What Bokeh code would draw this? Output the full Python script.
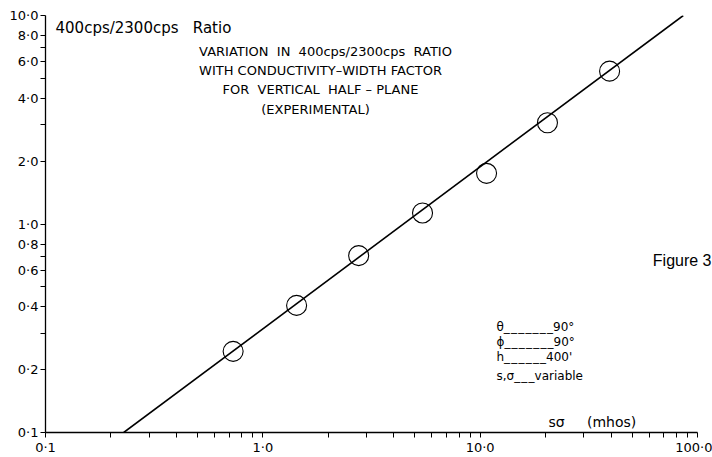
import numpy as np
from bokeh.plotting import figure
from bokeh.models import Label, FixedTicker
from bokeh.embed import file_html
from bokeh.resources import INLINE

# ---- data ----
s_sigma = [0.73, 1.43, 2.76, 5.43, 10.7, 20.4, 39.4]       # conductivity-width factor (mhos)
ratio = [0.245, 0.407, 0.705, 1.13, 1.75, 3.06, 5.41]      # 400cps/2300cps ratio
fit_x = [0.229, 86.0]                                       # fitted line end points
fit_y = [0.1, 10.0]

x_ticks = [0.1, 0.2, 0.3, 0.4, 0.5, 0.6, 0.7, 0.8, 0.9,
           1, 2, 3, 4, 5, 6, 7, 8, 9,
           10, 20, 30, 40, 50, 60, 70, 80, 90, 100]
x_tick_labels = {0.1: "0\u00b71", 1: "1\u00b70", 10: "10\u00b70", 100: "100\u00b70"}
y_ticks = [0.1, 0.2, 0.3, 0.4, 0.5, 0.6, 0.7, 0.8,
           1, 2, 3, 4, 5, 6, 7, 8, 10]
y_tick_labels = {0.1: "0\u00b71", 0.2: "0\u00b72", 0.4: "0\u00b74", 0.6: "0\u00b76", 0.8: "0\u00b78",
                 1: "1\u00b70", 2: "2\u00b70", 4: "4\u00b70", 6: "6\u00b70", 8: "8\u00b70", 10: "10\u00b70"}

# ---- layout ----
W, H = 712, 457
FL, FR, FT, FB = 45, 697, 15, 435          # pixel extent of the axes
X0, X1, Y0, Y1 = 0.1, 100.0, 0.1, 10.0
LX = np.log10(X1) - np.log10(X0)
LY = np.log10(Y1) - np.log10(Y0)

def dx(px):
    return 10 ** (np.log10(X0) + (px - FL) / (FR - FL) * LX)

def dy(py):
    return 10 ** (np.log10(Y0) + (FB - py) / (FB - FT) * LY)

FONT = "DejaVu Sans"

p = figure(width=W, height=H, x_axis_type="log", y_axis_type="log",
           x_range=(X0, dx(W)), y_range=(Y0, Y1),
           output_backend="svg", toolbar_location=None,
           min_border_left=FL, min_border_right=0,
           min_border_top=FT, min_border_bottom=H - FB)
p.outline_line_color = None
p.xgrid.visible = False
p.ygrid.visible = False
p.background_fill_color = "white"
p.border_fill_color = "white"
p.xaxis[0].bounds = (X0, X1)

for ax, ticks, labels in ((p.xaxis[0], x_ticks, x_tick_labels), (p.yaxis[0], y_ticks, y_tick_labels)):
    ax.ticker = FixedTicker(ticks=ticks, minor_ticks=[])
    ax.major_label_overrides = {t: labels.get(t, "") for t in ticks}
    ax.axis_line_color = "black"
    ax.axis_line_width = 1.3
    ax.major_tick_line_color = "black"
    ax.major_tick_line_width = 1.0
    ax.major_tick_in = 0
    ax.major_tick_out = 5
    ax.minor_tick_line_color = None
    ax.major_label_text_font = FONT
    ax.major_label_text_font_size = "13px"
    ax.major_label_text_color = "black"
    ax.major_label_standoff = 2

p.line(fit_x, fit_y, line_color="black", line_width=1.6)
p.scatter(s_sigma, ratio, marker="circle", size=20, fill_color=None,
          line_color="black", line_width=1.1)

def add_text(txt, px, py, size="13px", align="left", font=FONT):
    p.add_layout(Label(x=dx(px), y=dy(py), text=txt, text_font=font,
                       text_font_size=size, text_align=align, text_baseline="middle",
                       text_color="black"))

NB = "\u00a0"
HS = "\u200a"
add_text("400cps/2300cps" + NB * 3 + "Ratio", 55, 28, size="15px")

title_lines = [("VARIATION" + NB * 2 + "IN" + NB * 2 + "400cps/2300cps" + NB * 2 + "RATIO", 325),
               ("WITH" + NB + "CONDUCTIVITY\u2013WIDTH" + NB + "FACTOR", 320),
               ("FOR" + NB * 2 + "VERTICAL" + NB * 2 + "HALF" + NB + "\u2013" + NB + "PLANE", 320),
               ("(EXPERIMENTAL)", 315)]
for i, (t, cx) in enumerate(title_lines):
    add_text(t, cx, 51 + i * 19.5, size="13px", align="center")

add_text("s\u03c3" + NB * 5 + "(mhos)", 548, 424, size="14px")

dash7 = (HS.join(["_"] * 7))
dash6 = (HS.join(["_"] * 6))
dash3 = (HS.join(["_"] * 3))
add_text("\u03b8" + dash7 + "90\u00b0", 496, 329, size="12px")
add_text("\u03d5" + dash7 + "90\u00b0", 496, 344, size="12px")
add_text("h" + dash6 + "400'", 496, 359, size="12px")
add_text("s,\u03c3" + dash3 + "variable", 496, 378, size="12px")
add_text("Figure 3", 711, 262, size="16px", align="right", font="Liberation Sans")

open("out.html", "w").write(file_html(p, INLINE))
